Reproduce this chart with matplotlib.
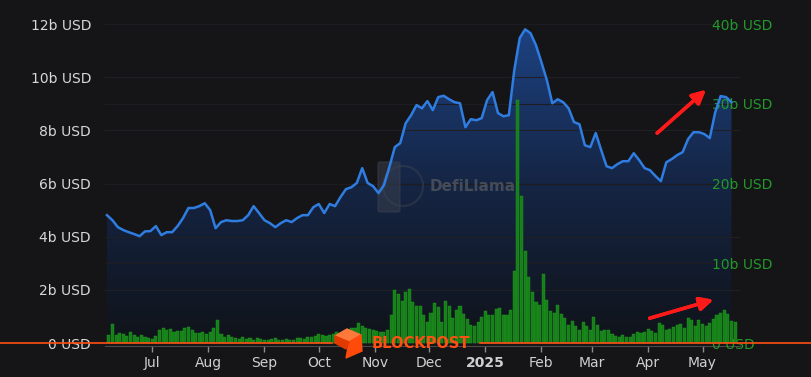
import matplotlib.pyplot as plt
import matplotlib.dates as mdates
import numpy as np
import pandas as pd
from matplotlib.colors import LinearSegmentedColormap
from matplotlib.patches import Polygon, Circle, FancyBboxPatch

# TVL, billions USD, one point every 3 days from 2024-06-06
tvl_b = [
    4.81, 4.62, 4.36, 4.25, 4.17, 4.10, 4.02, 4.20, 4.21, 4.40,
    4.06, 4.17, 4.17, 4.40, 4.70, 5.08, 5.08, 5.15, 5.26, 5.00,
    4.32, 4.55, 4.62, 4.59, 4.59, 4.62, 4.81, 5.15, 4.89, 4.62,
    4.51, 4.36, 4.51, 4.62, 4.55, 4.70, 4.81, 4.81, 5.11, 5.23,
    4.89, 5.23, 5.15, 5.49, 5.79, 5.86, 6.02, 6.58, 6.02, 5.90,
    5.64, 5.94, 6.62, 7.37, 7.52, 8.27, 8.57, 8.95, 8.83, 9.10,
    8.76, 9.25, 9.30, 9.17, 9.06, 9.02, 8.12, 8.42, 8.38, 8.46,
    9.14, 9.44, 8.65, 8.53, 8.57, 10.26, 11.47, 11.80, 11.65, 11.20,
    10.56, 9.89, 9.02, 9.17, 9.06, 8.83, 8.31, 8.23, 7.44, 7.37,
    7.90, 7.26, 6.65, 6.58, 6.73, 6.84, 6.84, 7.14, 6.88, 6.58,
    6.50, 6.28, 6.09, 6.80, 6.92, 7.07, 7.18, 7.67, 7.93, 7.93,
    7.86, 7.71, 8.68, 9.29, 9.25, 9.06,
]

# DEX volume, billions USD, one bar every 2 days from 2024-06-06
vol_b = [
    1.0, 2.4, 1.0, 1.3, 1.1, 0.9, 1.4, 1.0, 0.7, 1.0,
    0.8, 0.65, 0.45, 0.9, 1.6, 1.85, 1.7, 1.8, 1.45, 1.55,
    1.5, 1.9, 2.05, 1.65, 1.25, 1.3, 1.4, 1.15, 1.35, 1.95,
    2.9, 1.1, 0.7, 0.95, 0.75, 0.63, 0.45, 0.8, 0.45, 0.63,
    0.42, 0.6, 0.5, 0.4, 0.4, 0.55, 0.6, 0.4, 0.4, 0.45,
    0.4, 0.4, 0.6, 0.65, 0.5, 0.75, 0.8, 0.9, 1.2, 1.0,
    0.9, 0.95, 1.2, 1.4, 1.3, 1.4, 1.55, 1.9, 1.9, 2.5,
    2.2, 1.9, 1.8, 1.6, 1.5, 1.4, 1.4, 1.7, 3.5, 6.7,
    6.2, 5.3, 6.4, 6.8, 5.1, 4.7, 4.7, 3.5, 2.7, 3.8,
    5.0, 4.5, 2.7, 5.3, 4.6, 3.1, 4.2, 4.6, 3.7, 3.0,
    2.3, 2.2, 2.6, 3.3, 4.0, 3.5, 3.5, 4.3, 4.4, 3.5,
    3.5, 4.2, 9.0, 30.5, 18.5, 11.5, 8.3, 6.4, 5.2, 4.8,
    8.6, 5.4, 4.0, 3.8, 4.8, 3.6, 3.2, 2.3, 2.8, 2.2,
    1.6, 2.6, 2.1, 1.6, 3.3, 2.3, 1.5, 1.7, 1.6, 1.2,
    0.9, 0.8, 0.95, 0.8, 0.8, 1.2, 1.4, 1.25, 1.45, 1.8,
    1.5, 1.3, 2.5, 2.3, 1.65, 1.8, 2.0, 2.3, 2.4, 1.9,
    3.1, 2.9, 2.1, 2.9, 2.4, 2.2, 2.55, 3.0, 3.5, 3.8,
    4.1, 3.6, 2.8, 2.7,
]

month_ticks = ["2024-07-01", "2024-08-01", "2024-09-01", "2024-10-01", "2024-11-01",
               "2024-12-01", "2025-01-01", "2025-02-01", "2025-03-01", "2025-04-01",
               "2025-05-01"]
month_labels = ["Jul", "Aug", "Sep", "Oct", "Nov", "Dec", "2025", "Feb", "Mar", "Apr", "May"]
left_ticks = [0, 2, 4, 6, 8, 10, 12]
right_ticks = [0, 10, 20, 30, 40]

BG = "#151517"
W, H = 811, 377

start = pd.Timestamp("2024-06-06")
tvl_x = mdates.date2num(pd.date_range(start, periods=len(tvl_b), freq="3D"))
vol_x = mdates.date2num(pd.date_range(start, periods=len(vol_b), freq="2D"))
t0 = mdates.date2num(start)

fig = plt.figure(figsize=(W / 100, H / 100), dpi=100, facecolor=BG)
ax = fig.add_axes([105 / W, (H - 346) / H, (740 - 105) / W, (346 - 24) / H])
ax.set_facecolor(BG)

# gradient area under the TVL line
fill = ax.fill_between(tvl_x, tvl_b, 0, color="none", lw=0)
cmap = LinearSegmentedColormap.from_list("tvl", ["#101319", "#152544", "#1d4384"])
grad = np.linspace(0, 1, 256).reshape(-1, 1)
im = ax.imshow(grad, extent=[tvl_x[0], tvl_x[-1], 0, 12], origin="lower",
               aspect="auto", cmap=cmap, zorder=1)
im.set_clip_path(fill.get_paths()[0], transform=ax.transData)
ax.set_xlim(t0 - 1.1, t0 + 349.7)
ax.set_ylim(-0.11, 12)

ax.set_yticks(left_ticks)
ax.set_yticklabels([f"{v}b USD" if v else "0 USD" for v in left_ticks])
ax.grid(axis="y", color="#202024", lw=0.8, zorder=0)
ax.set_xticks(mdates.date2num(pd.to_datetime(month_ticks)))
ax.set_xticklabels(month_labels)
for lab in ax.get_xticklabels():
    if lab.get_text() == "2025":
        lab.set_fontweight("bold")
        lab.set_color("#ffffff")
ax.tick_params(axis="y", length=0, pad=10, labelsize=10, labelcolor="#d8d8d8")
ax.tick_params(axis="x", length=4, width=1, color="#8a8a8a", pad=3,
               labelsize=10, labelcolor="#cfcfcf")
for s in ["top", "left", "right"]:
    ax.spines[s].set_visible(False)
ax.spines["bottom"].set_color("#4a4a4a")

# volume bars on the right axis
ax2 = ax.twinx()
ax2.set_ylim(-0.11 * 40 / 12, 40)
ax2.bar(vol_x + 1, vol_b, width=1.7, color="#177f19", edgecolor="#1f9a22",
        linewidth=0.3, zorder=2)
ax2.set_yticks(right_ticks)
ax2.set_yticklabels([f"{v}b USD" if v else "0 USD" for v in right_ticks])
ax2.tick_params(axis="y", length=0, pad=-20, labelsize=10, labelcolor="#229a29")
for lab in ax2.get_yticklabels():
    lab.set_horizontalalignment("left")
ax2.grid(axis="y", color="#1d1d21", lw=0.8)
for s in ax2.spines.values():
    s.set_visible(False)

# TVL line on top of bars
ax2.plot(tvl_x, tvl_b, color="#2f7de1", lw=1.8, transform=ax.transData, zorder=5)

# DefiLlama watermark
ax2.add_patch(FancyBboxPatch((380, H - 210), 18, 46, boxstyle="round,pad=2",
                             transform=None, color="#3c4250", alpha=0.5, zorder=3))
ax2.add_patch(Circle((403, H - 186), 20, transform=None, fill=False,
                     ec="#3c4250", lw=1.5, alpha=0.5, zorder=3))
fig.text(430 / W, (H - 186) / H, "DefiLlama", color="#4a505c", fontsize=11,
         fontweight="bold", va="center", ha="left", alpha=0.9)

# orange BLOCKPOST banner
OR = "#ff4f12"
fig.add_artist(plt.Line2D([0, 332 / W], [(H - 343) / H] * 2, color=OR, lw=1.2))
fig.add_artist(plt.Line2D([480 / W, 1], [(H - 343) / H] * 2, color=OR, lw=1.2))


def fp(pts):
    return [(x / W, (H - y) / H) for x, y in pts]


fig.add_artist(Polygon(fp([(335, 336), (347, 329), (361, 335), (349, 342)]),
                       closed=True, color="#ff7a3a", transform=fig.transFigure))
fig.add_artist(Polygon(fp([(349, 342), (361, 335), (362, 351), (346, 358)]),
                       closed=True, color="#ff4a0a", transform=fig.transFigure))
fig.add_artist(Polygon(fp([(335, 336), (349, 342), (346, 349), (335, 343)]),
                       closed=True, color="#e03a00", transform=fig.transFigure))
fig.text(372 / W, (H - 344) / H, "BLOCKPOST", color=OR, fontsize=10.5,
         fontweight="bold", va="center", ha="left")

# red arrows
arrow = dict(arrowstyle="-|>", color="#ff1a1a", lw=2.5, mutation_scale=20)
fig.add_artist(plt.annotate("", xy=(708 / W, (H - 88) / H), xytext=(655 / W, (H - 135) / H),
                            xycoords="figure fraction", arrowprops=arrow))
fig.add_artist(plt.annotate("", xy=(716 / W, (H - 299) / H), xytext=(647 / W, (H - 319) / H),
                            xycoords="figure fraction", arrowprops=arrow))

fig.savefig("out.png", dpi=100, facecolor=BG)
